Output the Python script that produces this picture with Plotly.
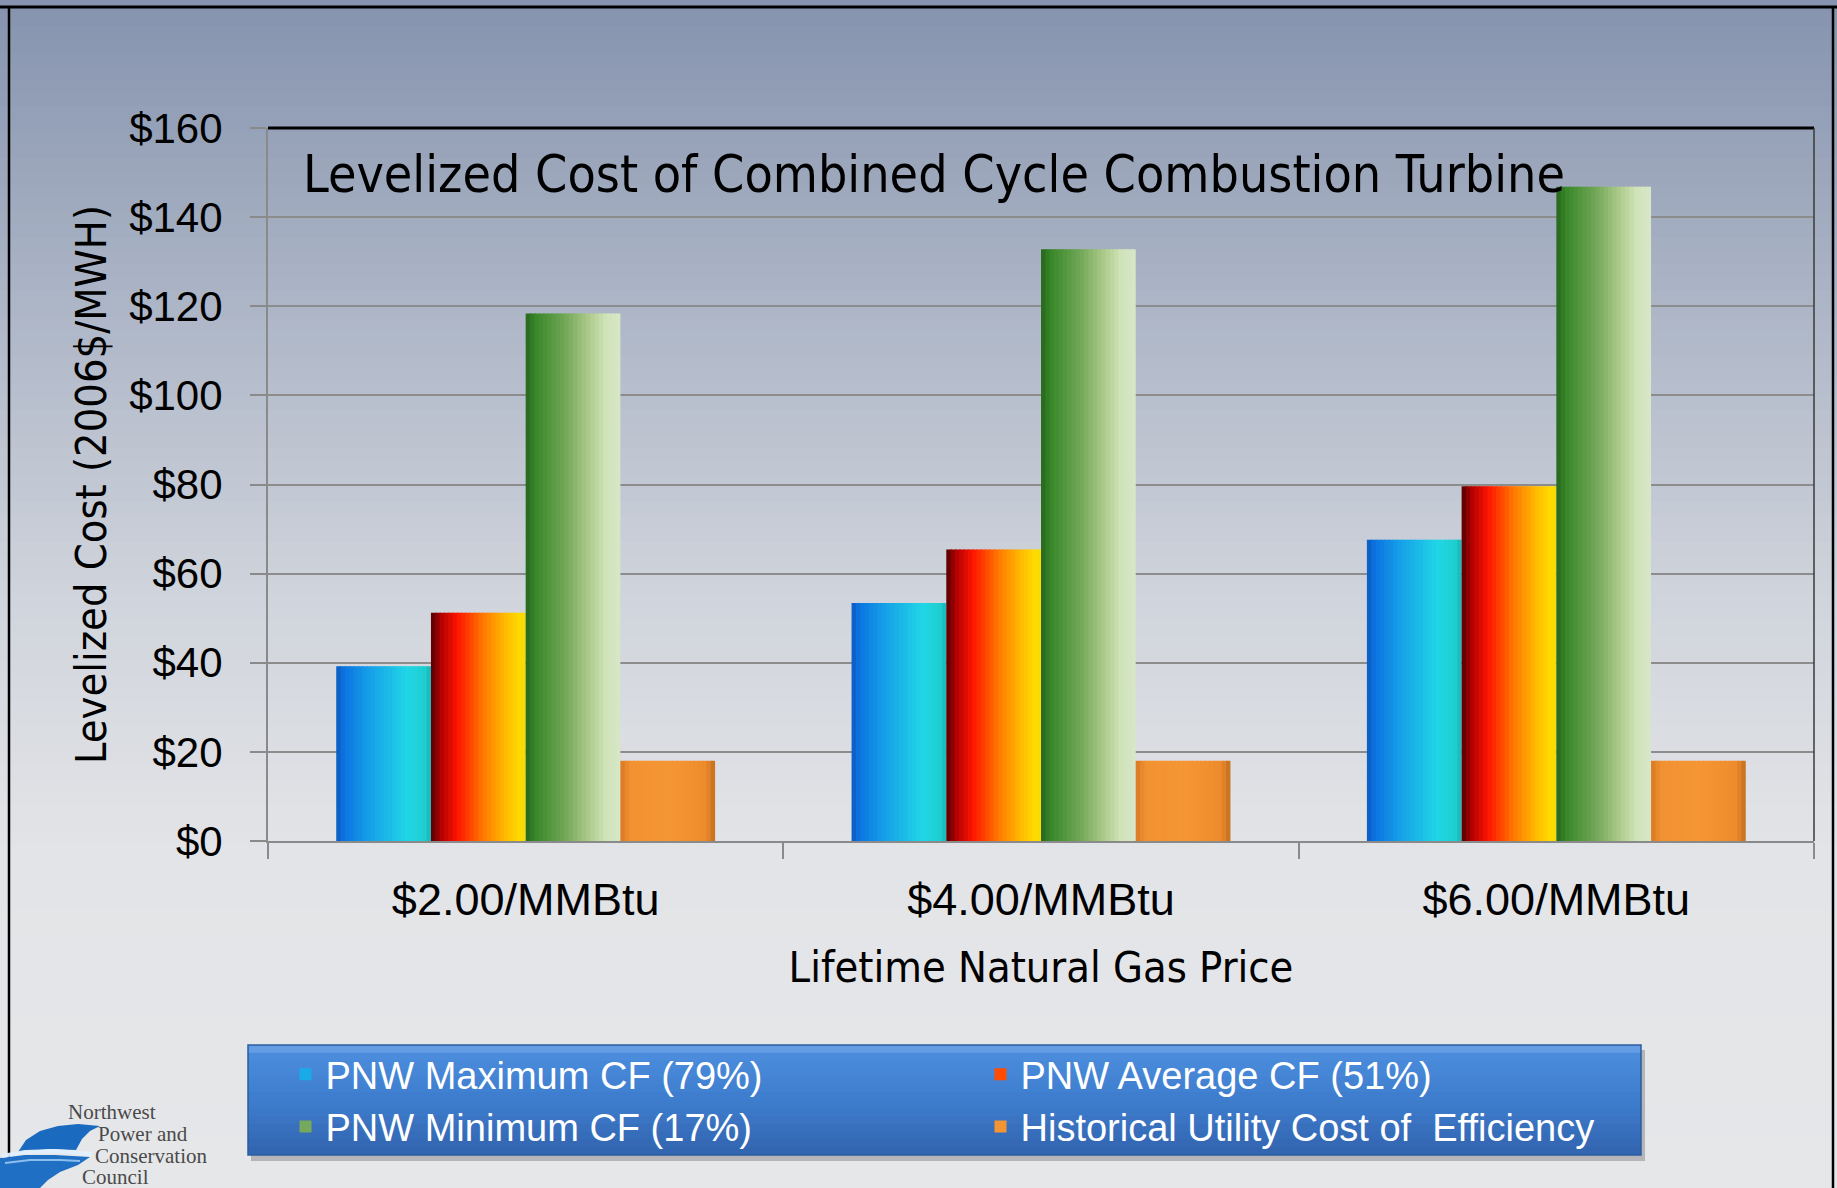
import plotly.graph_objects as go

# ---------------- data ----------------
categories = ["$2.00/MMBtu", "$4.00/MMBtu", "$6.00/MMBtu"]
series_names = [
    "PNW Maximum CF (79%)",
    "PNW Average CF (51%)",
    "PNW Minimum CF (17%)",
    "Historical Utility Cost of  Efficiency",
]
pnw_max = [39.2, 53.4, 67.6]
pnw_avg = [51.2, 65.4, 79.6]
pnw_min = [118.4, 132.8, 146.8]
historical = [18.0, 18.0, 18.0]
series_values = [pnw_max, pnw_avg, pnw_min, historical]

y_tick_vals = [0, 20, 40, 60, 80, 100, 120, 140, 160]
y_tick_text = ["$0", "$20", "$40", "$60", "$80", "$100", "$120", "$140", "$160"]

# ---------------- styling ----------------
W, H = 1837, 1188
ML, MR, MT, MB = 268, 23, 128, 347
PW = W - ML - MR
PH = H - MT - MB

COND = "DejaVu Sans Condensed, Liberation Sans Narrow, Arial Narrow, sans-serif"
SANS = "Liberation Sans, Arial, sans-serif"

# horizontal gradient stops (left -> right) for each series
gradients = [
    [(0.0, (10, 90, 190)), (0.08, (12, 115, 225)), (0.35, (22, 160, 232)),
     (0.75, (32, 214, 230)), (0.95, (30, 205, 205)), (1.0, (25, 175, 180))],
    [(0.0, (80, 0, 0)), (0.1, (175, 0, 0)), (0.28, (255, 20, 0)),
     (0.55, (255, 120, 0)), (0.8, (255, 190, 0)), (0.97, (255, 225, 0)), (1.0, (220, 200, 10))],
    [(0.0, (40, 100, 30)), (0.1, (55, 135, 40)), (0.4, (110, 165, 85)),
     (0.65, (170, 200, 135)), (0.85, (208, 228, 185)), (1.0, (215, 230, 200))],
    [(0.0, (215, 120, 35)), (0.1, (242, 145, 50)), (0.5, (245, 150, 52)),
     (0.9, (238, 140, 45)), (1.0, (190, 110, 30))],
]


def interp(stops, t):
    for (t0, c0), (t1, c1) in zip(stops[:-1], stops[1:]):
        if t0 <= t <= t1:
            f = 0 if t1 == t0 else (t - t0) / (t1 - t0)
            c = [round(a + (b - a) * f) for a, b in zip(c0, c1)]
            return "rgb(%d,%d,%d)" % tuple(c)
    return "rgb(%d,%d,%d)" % stops[-1][1]


BAR_W = 0.1838
GROUP_START = -2 * BAR_W
N_STRIPES = 22

fig = go.Figure()
for i, (name, vals) in enumerate(zip(series_names, series_values)):
    sw = BAR_W / N_STRIPES
    for k in range(N_STRIPES):
        t = (k + 0.5) / N_STRIPES
        w = sw * (1.35 if k < N_STRIPES - 1 else 1.0)
        fig.add_trace(go.Bar(
            x=categories, y=vals, name=name,
            offset=GROUP_START + i * BAR_W + k * sw, width=w,
            marker=dict(color=interp(gradients[i], t), line=dict(width=0)),
            legendgroup=name, showlegend=(k == int(N_STRIPES * 0.45)),
            hovertemplate="%{x}<br>" + name + ": $%{y}<extra></extra>",
        ))


def px(x):
    return (x - ML) / PW


def py(y):
    return (H - MB - y) / PH


shapes = []
# page background gradient
bg_stops = [(0, (133, 147, 174)), (300, (172, 181, 198)), (600, (208, 212, 220)),
            (850, (227, 228, 231)), (1188, (230, 231, 233))]
nb = 90
for b in range(nb):
    y0 = H * b / nb
    y1 = H * (b + 1) / nb + 1
    col = interp([(s / H, c) for s, c in bg_stops], (y0 + y1) / 2 / H)
    shapes.append(dict(type="rect", xref="paper", yref="paper", layer="below",
                       x0=px(-5), x1=px(W + 5), y0=py(y1), y1=py(y0),
                       fillcolor=col, line=dict(width=0)))

# outer frame
shapes.append(dict(type="line", xref="paper", yref="paper", x0=px(0), x1=px(W), y0=py(7), y1=py(7),
                   line=dict(color="black", width=3)))
shapes.append(dict(type="line", xref="paper", yref="paper", x0=px(9), x1=px(9), y0=py(7), y1=py(H + 5),
                   line=dict(color="black", width=2.5)))
shapes.append(dict(type="line", xref="paper", yref="paper", x0=px(1833), x1=px(1833), y0=py(7), y1=py(H + 5),
                   line=dict(color="black", width=2.5)))
# plot area top / right border
shapes.append(dict(type="line", xref="paper", yref="paper", x0=0, x1=1, y0=1, y1=1,
                   line=dict(color="black", width=3)))
shapes.append(dict(type="line", xref="paper", yref="paper", x0=1, x1=1, y0=0, y1=1,
                   line=dict(color="#3a3a3a", width=1.5)))

# legend box (shadow + gradient bands + border)
LX0, LX1, LY0, LY1 = 248, 1641, 1045, 1155
shapes.append(dict(type="rect", xref="paper", yref="paper", x0=px(LX0 + 3), x1=px(LX1 + 4),
                   y0=py(LY1 + 6), y1=py(LY0 + 5), fillcolor="rgba(90,90,100,0.35)", line=dict(width=0)))
lg_stops = [(0.0, (120, 170, 235)), (0.08, (75, 140, 220)), (0.5, (62, 125, 205)), (1.0, (50, 100, 175))]
nl = 14
for b in range(nl):
    y0 = LY0 + (LY1 - LY0) * b / nl
    y1 = LY0 + (LY1 - LY0) * (b + 1) / nl + 0.8
    col = interp(lg_stops, (b + 0.5) / nl)
    shapes.append(dict(type="rect", xref="paper", yref="paper", x0=px(LX0), x1=px(LX1),
                       y0=py(min(y1, LY1)), y1=py(y0), fillcolor=col, line=dict(width=0)))
shapes.append(dict(type="rect", xref="paper", yref="paper", x0=px(LX0), x1=px(LX1),
                   y0=py(LY1), y1=py(LY0), fillcolor="rgba(0,0,0,0)",
                   line=dict(color="#2b5c9e", width=1.5)))


# logo swoosh
def path_px(points, close=True):
    s = "M %f,%f " % (px(points[0][0]), py(points[0][1]))
    for p in points[1:]:
        s += "L %f,%f " % (px(p[0]), py(p[1]))
    return s + ("Z" if close else "")


swoosh_top = [(18, 1152), (26, 1140), (40, 1131), (58, 1126), (78, 1124), (100, 1126),
              (90, 1131), (82, 1139), (76, 1150), (50, 1149)]
shapes.append(dict(type="path", xref="paper", yref="paper", path=path_px(swoosh_top),
                   fillcolor="#1a6bbf", line=dict(width=0)))
swoosh_low = [(0, 1158), (25, 1155), (55, 1155), (90, 1157), (78, 1165), (60, 1172),
              (48, 1180), (40, 1188), (0, 1188)]
shapes.append(dict(type="path", xref="paper", yref="paper", path=path_px(swoosh_low),
                   fillcolor="#1f70c4", line=dict(width=0)))
wave = [(2, 1156), (25, 1152), (55, 1151), (92, 1154)]
shapes.append(dict(type="path", xref="paper", yref="paper", path=path_px(wave, close=False),
                   line=dict(color="rgba(225,240,255,0.95)", width=4)))
wave2 = [(5, 1163), (30, 1160), (60, 1160), (80, 1161)]
shapes.append(dict(type="path", xref="paper", yref="paper", path=path_px(wave2, close=False),
                   line=dict(color="rgba(170,210,245,0.8)", width=2)))

annotations = [
    dict(text="Levelized Cost of Combined Cycle Combustion Turbine", xref="paper", yref="paper",
         x=px(301), y=py(174), xanchor="left", yanchor="middle", showarrow=False,
         font=dict(family=COND, size=51.5, color="black")),
]
logo_lines = [("Northwest", 66, 1112), ("Power and", 96, 1134), ("Conservation", 93, 1156), ("Council", 80, 1177)]
for txt, x, y in logo_lines:
    annotations.append(dict(text=txt, xref="paper", yref="paper", x=px(x), y=py(y),
                            xanchor="left", yanchor="middle", showarrow=False,
                            font=dict(family="Liberation Serif, DejaVu Serif, serif", size=21, color="#4a4a4a")))

fig.update_layout(
    width=W, height=H,
    margin=dict(l=ML, r=MR, t=MT, b=MB, pad=0),
    paper_bgcolor="#e6e7e9",
    plot_bgcolor="rgba(0,0,0,0)",
    barmode="overlay",
    shapes=shapes,
    annotations=annotations,
    font=dict(family=SANS, color="black"),
    legend=dict(
        orientation="h", x=px(285.5), y=py(1043), xanchor="left", yanchor="top",
        bgcolor="rgba(0,0,0,0)", borderwidth=0,
        font=dict(family=SANS, size=38, color="white"),
        entrywidth=650, entrywidthmode="pixels", traceorder="normal",
        itemclick=False, itemdoubleclick=False,
    ),
    showlegend=True,
)

fig.update_xaxes(
    type="category", categoryorder="array", categoryarray=categories,
    range=[-0.5, 2.5],
    showline=True, linecolor="#8a8a8a", linewidth=2,
    ticks="outside", tickson="boundaries", ticklen=16, tickcolor="#8a8a8a", tickwidth=2,
    tickfont=dict(size=45, family=SANS, color="black"),
    ticklabelstandoff=18,
    showgrid=False,
    title=dict(text="Lifetime Natural Gas Price", standoff=28,
               font=dict(size=43, family=COND, color="black")),
)
fig.update_yaxes(
    range=[0, 160], tickvals=y_tick_vals, ticktext=y_tick_text,
    showline=True, linecolor="#8a8a8a", linewidth=2,
    showgrid=True, gridcolor="#8c8c8c", gridwidth=2,
    ticks="outside", ticklen=16, tickcolor="#8a8a8a", tickwidth=2,
    tickfont=dict(size=42, family=SANS, color="black"),
    ticklabelstandoff=19,
    zeroline=False,
    title=dict(text="Levelized Cost (2006$/MWH)", standoff=9,
               font=dict(size=43, family=COND, color="black")),
)

fig.write_html("out.html", config={"displayModeBar": False},
               post_script="document.body.style.margin='0px';")
